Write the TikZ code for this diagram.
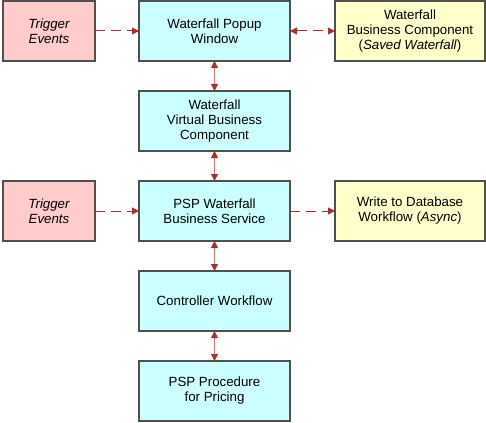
\documentclass[tikz,border=0pt]{standalone}
\usepackage{fontspec}
\setmainfont{Liberation Sans}
\usetikzlibrary{positioning,arrows.meta}

\definecolor{trigfill}{HTML}{FFCCCC}
\definecolor{mainfill}{HTML}{CCFFFF}
\definecolor{sidefill}{HTML}{FFFFCC}
\definecolor{boxline}{HTML}{505050}
\definecolor{arrowred}{HTML}{A33333}
\definecolor{arrowpale}{HTML}{C87878}

\tikzset{
    box/.style={draw=boxline, line width=1.2pt, minimum width=151pt, minimum height=60pt,
        inner sep=0pt, outer sep=0pt, align=center, font=\fontsize{13.3}{15}\selectfont},
    trigbox/.style={box, fill=trigfill, minimum width=92pt, font=\fontsize{13.3}{15}\selectfont\itshape},
    mainbox/.style={box, fill=mainfill},
    sidebox/.style={box, fill=sidefill, minimum width=150pt},
    dasharrow/.style={draw=arrowred, line width=1pt, dash pattern=on 10pt off 6pt,
        -{Triangle[length=7pt,width=7pt]}},
    dashboth/.style={dasharrow, {Triangle[length=7pt,width=7pt]}-{Triangle[length=7pt,width=7pt]}},
    linkarrow/.style={draw=arrowpale, line width=1pt,
        {Triangle[length=7pt,width=7pt,color=arrowred]}-{Triangle[length=7pt,width=7pt,color=arrowred]}}
}

\begin{document}
\begin{tikzpicture}[node distance=30pt]
    \useasboundingbox (0,0) rectangle (486pt,-422pt);

    \node[mainbox] (popup) at (214.5pt,-31pt) {Waterfall Popup\\Window};
    \node[mainbox, below=of popup] (vbc) {Waterfall\\Virtual Business\\Component};
    \node[mainbox, below=of vbc] (service) {PSP Waterfall\\Business Service};
    \node[mainbox, below=of service] (controller) {Controller Workflow};
    \node[mainbox, below=of controller] (procedure) {PSP Procedure\\for Pricing};

    \node[trigbox, left=44pt of popup] (trigger1) {Trigger\\Events};
    \node[trigbox, left=44pt of service] (trigger2) {Trigger\\Events};
    \node[sidebox, right=45pt of popup] (savedbc) {Waterfall\\Business Component\\(\textit{Saved Waterfall})};
    \node[sidebox, right=45pt of service] (dbflow) {Write to Database\\Workflow (\textit{Async})};

    \draw[dasharrow] (trigger1) -- (popup);
    \draw[dashboth] (popup) -- (savedbc);
    \draw[dasharrow] (trigger2) -- (service);
    \draw[dasharrow] (service) -- (dbflow);

    \draw[linkarrow] (popup) -- (vbc);
    \draw[linkarrow] (vbc) -- (service);
    \draw[linkarrow] (service) -- (controller);
    \draw[linkarrow] (controller) -- (procedure);
\end{tikzpicture}
\end{document}
